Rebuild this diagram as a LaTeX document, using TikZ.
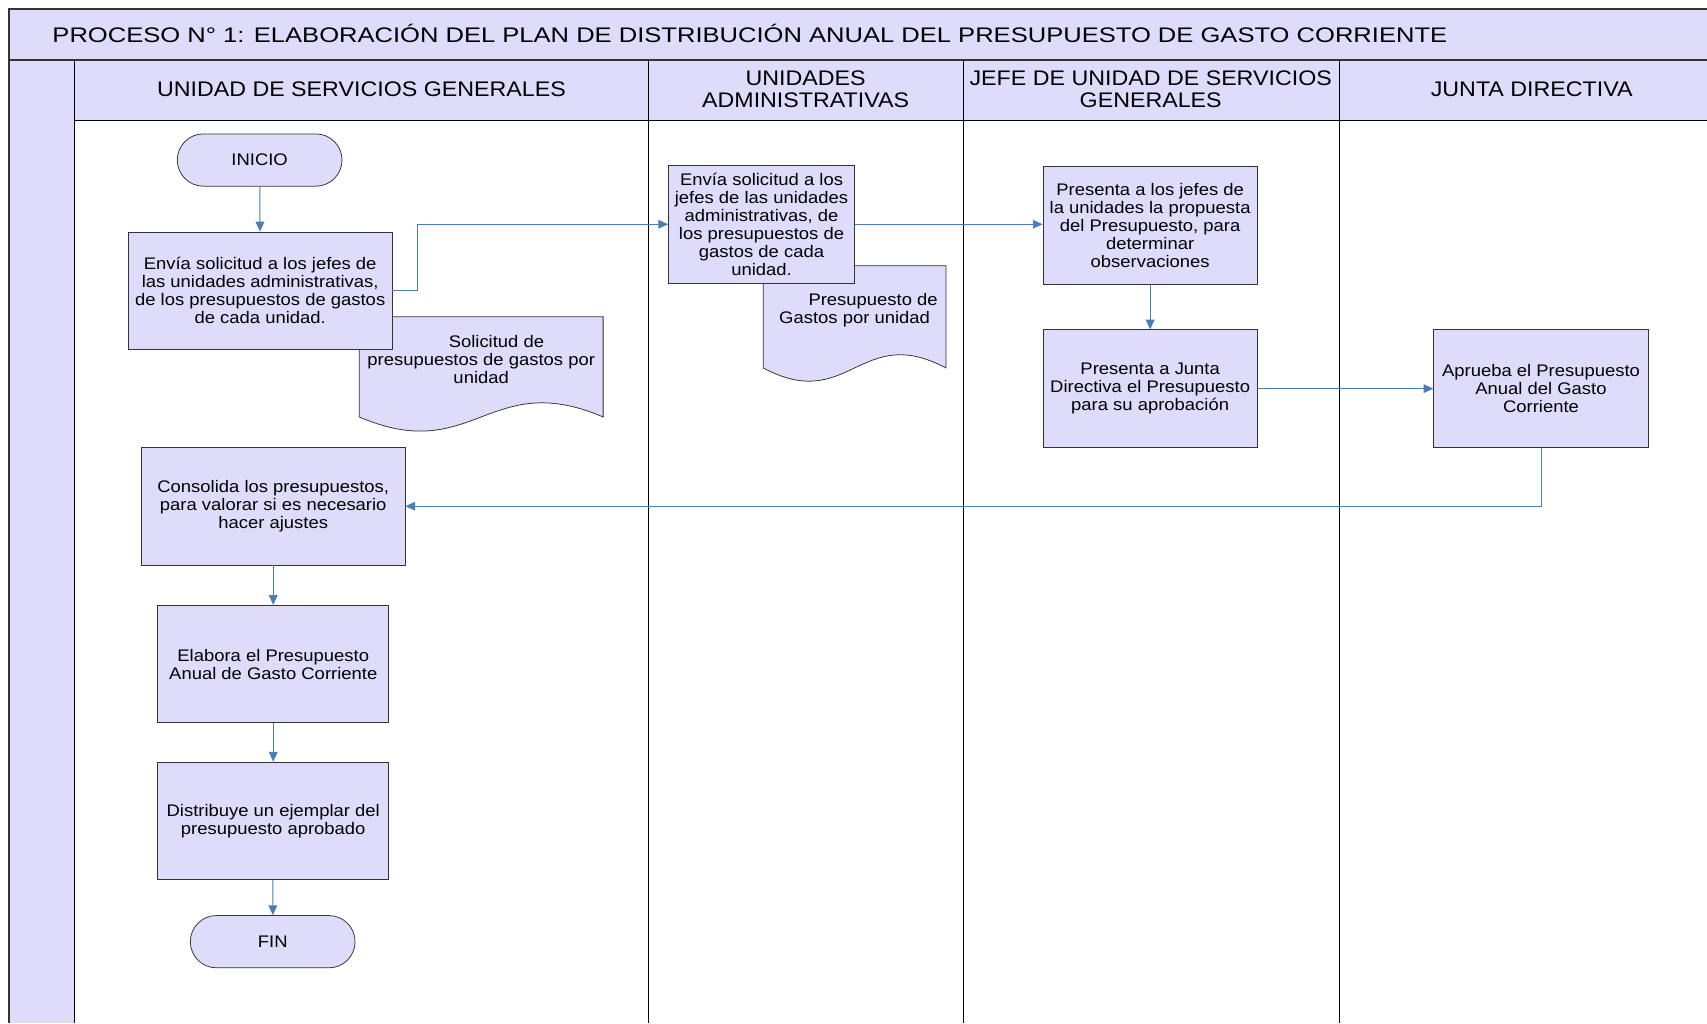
\documentclass[tikz,border=0pt]{standalone}
\usepackage{fontspec}
\setmainfont{Liberation Sans}[FakeStretch=1.1]
\newfontfamily\titleFam{Liberation Sans}[FakeStretch=1.21]
\usepackage{tikz}
\usetikzlibrary{arrows.meta,shapes.misc}
\definecolor{lavFill}{HTML}{DEDCFA}
\definecolor{flowBlue}{HTML}{4A7EBB}
\newcommand{\titleFont}{\fontsize{19.4}{20}\selectfont}
\newcommand{\boxFont}{\fontsize{15.4}{16.5}\selectfont}

\begin{document}
\begin{tikzpicture}[x=1pt, y=-1pt, >={Triangle[length=9pt,width=8pt]},
  frame/.style={draw=black!80, line width=1.6pt},
  lane/.style={draw=black, line width=0.8pt},
  procbox/.style={rectangle,draw=black!80,fill=lavFill,line width=0.7pt,align=center,inner sep=2pt,font=\boxFont},
  term/.style={rounded rectangle,draw=black!80,fill=lavFill,line width=0.7pt,minimum width=158pt,minimum height=48pt,font=\boxFont},
  docshape/.style={draw=black!80,fill=lavFill,line width=0.7pt},
  doctext/.style={align=center,inner sep=0pt,font=\boxFont},
  lanehead/.style={align=center,inner sep=0pt,font=\titleFont},
  flow/.style={->,draw=flowBlue,line width=0.9pt}]
\useasboundingbox (0,0) rectangle (1568,940);
% --- swimlane frame ---
\fill[lavFill] (8,8) rectangle (1568,111);
\fill[lavFill] (8,111) rectangle (68,940);
\draw[frame] (1568,8) -- (8,8) -- (8,940);
\draw[frame] (8,55) -- (1568,55);
\draw[lane] (68,55) -- (68,940);
\draw[lane] (68,111) -- (1568,111);
\foreach \x in {596,885,1230} \draw[lane] (\x,55) -- (\x,940);
\node[anchor=west,inner sep=0pt,font=\titleFam\titleFont] (title) at (48,31)
  {PROCESO N° 1: ELABORACIÓN DEL PLAN DE DISTRIBUCIÓN ANUAL DEL PRESUPUESTO DE GASTO CORRIENTE};
\node[lanehead] (usg) at (332,82) {UNIDAD DE SERVICIOS GENERALES};
\node[lanehead] (uadm) at (740,82) {UNIDADES\\ADMINISTRATIVAS};
\node[lanehead] (jefe) at (1057,82) {JEFE DE UNIDAD DE SERVICIOS\\GENERALES};
\node[lanehead] (junta) at (1407,82) {JUNTA DIRECTIVA};
% --- documents (behind the boxes) ---
\draw[docshape] (330,291) -- (554,291) -- (554,383)
  .. controls (449,338) and (435,428) .. (330,383) -- cycle;
\node[doctext] (solicitud) at (442,330)
  {\hspace*{28pt}Solicitud de\\presupuestos de gastos por\\unidad};
\draw[docshape] (701,244) -- (869,244) -- (869,338)
  .. controls (790,296) and (780,380) .. (701,338) -- cycle;
\node[doctext] (gastosUnidad) at (785,285)
  {\hspace*{34pt}Presupuesto de\\Gastos por unidad};
% --- steps ---
\node[term] (inicio) at (238.5,147) {INICIO};
\node[procbox,minimum width=242pt,minimum height=108pt] (envia) at (239,267)
  {Envía solicitud a los jefes de\\las unidades administrativas,\\de los presupuestos de gastos\\de cada unidad.};
\node[procbox,minimum width=171pt,minimum height=108pt] (enviaUA) at (699.5,206)
  {Envía solicitud a los\\jefes de las unidades\\administrativas, de\\los presupuestos de\\gastos de cada\\unidad.};
\node[procbox,minimum width=197pt,minimum height=108pt] (presJefes) at (1056.5,207)
  {Presenta a los jefes de\\la unidades la propuesta\\del Presupuesto, para\\determinar\\observaciones};
\node[procbox,minimum width=197pt,minimum height=108pt] (presJunta) at (1056.5,357)
  {Presenta a Junta\\Directiva el Presupuesto\\para su aprobación};
\node[procbox,minimum width=197pt,minimum height=108pt] (aprueba) at (1415.5,357)
  {Aprueba el Presupuesto\\Anual del Gasto\\Corriente};
\node[procbox,minimum width=242pt,minimum height=108pt] (consolida) at (251,465)
  {Consolida los presupuestos,\\para valorar si es necesario\\hacer ajustes};
\node[procbox,minimum width=212pt,minimum height=108pt] (elabora) at (251,610)
  {Elabora el Presupuesto\\Anual de Gasto Corriente};
\node[procbox,minimum width=212pt,minimum height=108pt] (distribuye) at (251,754)
  {Distribuye un ejemplar del\\presupuesto aprobado};
\node[term] (fin) at (250.5,865) {FIN};
% --- flow ---
\draw[flow] (inicio) -- (envia);
\draw[flow] (envia.east) -- ++(23,0) |- (enviaUA.west);
\draw[flow] (enviaUA.east) -- (enviaUA.east -| presJefes.west);
\draw[flow] (presJefes) -- (presJunta);
\draw[flow] (presJunta) -- (aprueba);
\draw[flow] (aprueba.south) |- (consolida.east);
\draw[flow] (consolida) -- (elabora);
\draw[flow] (elabora) -- (distribuye);
\draw[flow] (distribuye) -- (fin);
\end{tikzpicture}
\end{document}
